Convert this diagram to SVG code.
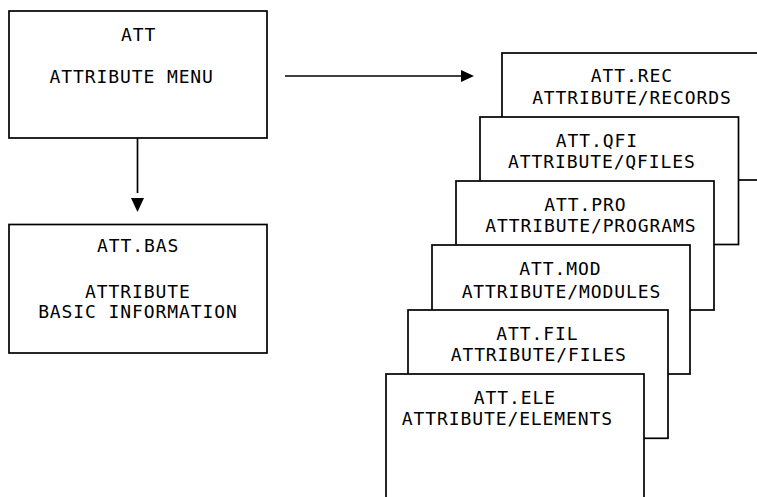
<svg xmlns="http://www.w3.org/2000/svg" width="757" height="497" viewBox="0 0 757 497">
<style>
.box{fill:#fff;stroke:#000;stroke-width:1.7}
.t{font-family:"DejaVu Sans Mono","Liberation Mono",monospace;font-size:18px;letter-spacing:0.9px;fill:#000;text-anchor:middle}
.c{stroke:#000;stroke-width:1.7;fill:none}
</style>
<defs>
<marker id="ah" markerUnits="userSpaceOnUse" markerWidth="14" markerHeight="14" refX="0" refY="6" orient="auto" overflow="visible">
<path d="M0,0 L13,6 L0,12 z" fill="#000"/>
</marker>
<marker id="ahgap" markerUnits="userSpaceOnUse" markerWidth="20" markerHeight="14" refX="0" refY="6.5" orient="auto" overflow="visible">
<path d="M5,0 L19,6.5 L5,13 z" fill="#000"/>
</marker>
</defs>
<g id="connectors">
<line class="c" x1="137.5" y1="138" x2="137.5" y2="193" marker-end="url(#ahgap)"/>
<line class="c" x1="285" y1="76" x2="461" y2="76" marker-end="url(#ah)"/>
</g>
<g id="att">
<rect class="box" x="9" y="11" width="258" height="127"/>
<text class="t" x="138.7" y="41.3">ATT</text>
<text class="t" x="131.7" y="83.3">ATTRIBUTE MENU</text>
</g>
<g id="att-bas">
<rect class="box" x="9" y="224.5" width="258" height="128.5"/>
<text class="t" x="138.2" y="252">ATT.BAS</text>
<text class="t" x="137.9" y="297.7">ATTRIBUTE</text>
<text class="t" x="137.9" y="317.5">BASIC INFORMATION</text>
</g>
<g id="att-rec">
<rect class="box" x="502" y="53" width="258" height="127"/>
<text class="t" x="631.9" y="82">ATT.REC</text>
<text class="t" x="631.9" y="104.3">ATTRIBUTE/RECORDS</text>
</g>
<g id="att-qfi">
<rect class="box" x="480" y="117" width="258.5" height="127.5"/>
<text class="t" x="596.9" y="147">ATT.QFI</text>
<text class="t" x="601.9" y="168">ATTRIBUTE/QFILES</text>
</g>
<g id="att-pro">
<rect class="box" x="456" y="181" width="258" height="129"/>
<text class="t" x="585.4" y="211">ATT.PRO</text>
<text class="t" x="590.9" y="232">ATTRIBUTE/PROGRAMS</text>
</g>
<g id="att-mod">
<rect class="box" x="432" y="245" width="258" height="129"/>
<text class="t" x="560.4" y="275">ATT.MOD</text>
<text class="t" x="561.4" y="297.5">ATTRIBUTE/MODULES</text>
</g>
<g id="att-fil">
<rect class="box" x="408" y="310" width="260" height="128.3"/>
<text class="t" x="537.4" y="340">ATT.FIL</text>
<text class="t" x="538.7" y="360.7">ATTRIBUTE/FILES</text>
</g>
<g id="att-ele">
<rect class="box" x="386" y="374" width="258" height="130"/>
<text class="t" x="514.9" y="404">ATT.ELE</text>
<text class="t" x="507.4" y="425">ATTRIBUTE/ELEMENTS</text>
</g>
</svg>
